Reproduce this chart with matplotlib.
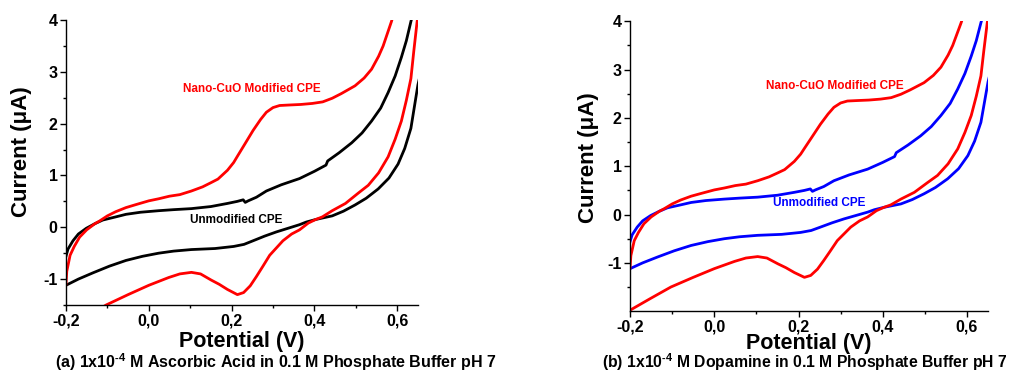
"""
Cyclic voltammograms of bare and nano-CuO modified carbon paste electrodes
(a) ascorbic acid, (b) dopamine, 0.1 M phosphate buffer pH 7
"""

import matplotlib
matplotlib.use('Agg')
import matplotlib.pyplot as plt

plt.rcParams['font.family'] = ['Liberation Sans', 'DejaVu Sans']
plt.rcParams['font.weight'] = 'bold'
plt.rcParams['mathtext.fontset'] = 'custom'
plt.rcParams['mathtext.rm'] = 'Liberation Sans:bold'
plt.rcParams['mathtext.bf'] = 'Liberation Sans:bold'

# --- modified electrode (nano-CuO), anodic sweep
mod_fwd_v = [-0.2, -0.198, -0.19, -0.18, -0.167, -0.15, -0.13, -0.119, -0.1, -0.08,
             -0.055, -0.03, 0.0, 0.024, 0.05, 0.075, 0.103, 0.13, 0.15, 0.167,
             0.19, 0.205, 0.214, 0.23, 0.252, 0.27, 0.284, 0.3, 0.316, 0.34,
             0.367, 0.395, 0.42, 0.443, 0.465, 0.498, 0.52, 0.538, 0.555, 0.566,
             0.586, 0.6, 0.62, 0.66]
mod_fwd_i = [-1.1, -0.85, -0.54, -0.37, -0.19, -0.05, 0.07, 0.12, 0.22, 0.3,
             0.38, 0.44, 0.51, 0.55, 0.6, 0.63, 0.7, 0.78, 0.86, 0.93,
             1.1, 1.25, 1.37, 1.58, 1.87, 2.08, 2.22, 2.31, 2.35, 2.36,
             2.37, 2.39, 2.42, 2.49, 2.58, 2.73, 2.88, 3.05, 3.3, 3.5,
             3.97, 4.35, 5.0, 6.3]

# --- modified electrode, cathodic sweep
mod_rev_v = [0.66, 0.648, 0.64, 0.633, 0.622, 0.61, 0.595, 0.578, 0.555, 0.53,
             0.506, 0.475, 0.443, 0.419, 0.403, 0.385, 0.364, 0.345, 0.324, 0.308,
             0.292, 0.275, 0.26, 0.245, 0.229, 0.214, 0.19, 0.17, 0.151, 0.125,
             0.103, 0.075, 0.048, 0.0, -0.05, -0.103, -0.15, -0.2]
mod_rev_i = [4.6, 3.97, 3.4, 2.87, 2.45, 2.05, 1.7, 1.36, 1.05, 0.81,
             0.66, 0.46, 0.32, 0.2, 0.15, 0.08, -0.05, -0.13, -0.26, -0.4,
             -0.54, -0.76, -0.95, -1.13, -1.26, -1.3, -1.2, -1.1, -1.02, -0.9,
             -0.87, -0.9, -0.97, -1.12, -1.3, -1.5, -1.73, -1.98]

# --- unmodified CPE, anodic sweep
bare_fwd_v = [-0.2, -0.195, -0.183, -0.17, -0.151, -0.13, -0.111, -0.08, -0.055, -0.02,
              0.024, 0.06, 0.103, 0.15, 0.19, 0.214, 0.228, 0.233, 0.24, 0.26,
              0.284, 0.32, 0.364, 0.4, 0.428, 0.432, 0.46, 0.49, 0.515, 0.538,
              0.56, 0.578, 0.595, 0.61, 0.622, 0.633, 0.66]
bare_fwd_i = [-0.56, -0.42, -0.26, -0.13, -0.02, 0.07, 0.14, 0.2, 0.25, 0.29,
              0.32, 0.34, 0.36, 0.4, 0.46, 0.5, 0.53, 0.48, 0.51, 0.58,
              0.7, 0.82, 0.94, 1.08, 1.2, 1.28, 1.44, 1.63, 1.82, 2.05,
              2.3, 2.6, 2.92, 3.28, 3.6, 3.97, 4.8]

# --- unmodified CPE, cathodic sweep
bare_rev_v = [0.66, 0.65, 0.633, 0.618, 0.602, 0.58, 0.554, 0.525, 0.498, 0.47,
              0.443, 0.42, 0.403, 0.38, 0.364, 0.336, 0.308, 0.28, 0.252, 0.23,
              0.205, 0.16, 0.103, 0.06, 0.024, -0.015, -0.055, -0.095, -0.135, -0.17,
              -0.2]
bare_rev_i = [3.1, 2.75, 1.91, 1.52, 1.22, 0.95, 0.74, 0.56, 0.43, 0.31,
              0.22, 0.18, 0.15, 0.1, 0.05, -0.02, -0.09, -0.17, -0.26, -0.33,
              -0.37, -0.41, -0.43, -0.46, -0.5, -0.56, -0.64, -0.75, -0.88, -1.0,
              -1.12]

x_ticks = [-0.2, 0.0, 0.2, 0.4, 0.6]
x_tick_labels = ['-0,2', '0,0', '0,2', '0,4', '0,6']
x_minor = [-0.1, 0.1, 0.3, 0.5]
y_ticks = [-1, 0, 1, 2, 3, 4]
y_tick_labels = ['-1', '0', '1', '2', '3', '4']
y_minor = [-1.5, -0.5, 0.5, 1.5, 2.5, 3.5]
captions = [r'(a) 1x10$^{\mathrm{\text{-}4}}$ M Ascorbic Acid in 0.1 M Phosphate Buffer pH 7',
            r'(b) 1x10$^{\mathrm{\text{-}4}}$ M Dopamine in 0.1 M Phosphate Buffer pH 7']

RED = '#ff0000'


def draw_panel(ax, bare_color, ymin, xlab_y, ylab_x, ylab_y):
    ax.plot(bare_fwd_v + bare_rev_v, bare_fwd_i + bare_rev_i, color=bare_color, lw=2.0)
    ax.plot(mod_fwd_v + mod_rev_v, mod_fwd_i + mod_rev_i, color=RED, lw=2.0)

    ax.set_xlim(-0.2, 0.65)
    ax.set_ylim(ymin, 4)
    ax.set_xticks(x_ticks)
    ax.set_xticklabels(x_tick_labels)
    ax.set_xticks(x_minor, minor=True)
    ax.set_yticks(y_ticks)
    ax.set_yticklabels(y_tick_labels)
    ax.set_yticks(y_minor, minor=True)

    for side in ['top', 'right']:
        ax.spines[side].set_visible(False)
    for side in ['left', 'bottom']:
        ax.spines[side].set_linewidth(1.0)
    ax.tick_params(which='major', direction='out', length=4, width=1.0,
                   labelsize=11.5, pad=2)
    ax.tick_params(which='minor', direction='out', length=2.5, width=1.0)
    for lab in ax.get_xticklabels() + ax.get_yticklabels():
        lab.set_fontweight('bold')

    ax.set_xlabel('Potential (V)', fontsize=15.5, fontweight='bold')
    ax.set_ylabel('Current (\u03bcA)', fontsize=16, fontweight='bold')
    ax.xaxis.set_label_coords(0.5, xlab_y)
    ax.yaxis.set_label_coords(ylab_x, ylab_y)


fig = plt.figure(figsize=(10.1, 3.74), dpi=100)

ax1 = fig.add_axes([0.0653, 0.1845, 0.3485, 0.762])
draw_panel(ax1, 'black', -1.5, -0.09, -0.097, 0.537)
ax1.text(0.248, 2.67, 'Nano-CuO Modified CPE', color=RED, fontsize=8.5,
         fontweight='bold', ha='center', va='center')
ax1.text(0.211, 0.15, 'Unmodified CPE', color='black', fontsize=8.5,
         fontweight='bold', ha='center', va='center')

ax2 = fig.add_axes([0.6238, 0.168, 0.3545, 0.775])
draw_panel(ax2, '#0000ff', -2, -0.074, -0.086, 0.531)
ax2.text(0.287, 2.67, 'Nano-CuO Modified CPE', color=RED, fontsize=8.5,
         fontweight='bold', ha='center', va='center')
ax2.text(0.248, 0.23, 'Unmodified CPE', color='#0000ff', fontsize=8.5,
         fontweight='bold', ha='center', va='center')

fig.text(0.273, 0.002, captions[0], fontsize=11.5, fontweight='bold',
         ha='center', va='bottom')
fig.text(0.797, 0.002, captions[1], fontsize=11.3, fontweight='bold',
         ha='center', va='bottom')

plt.savefig('out.png', dpi=100)
